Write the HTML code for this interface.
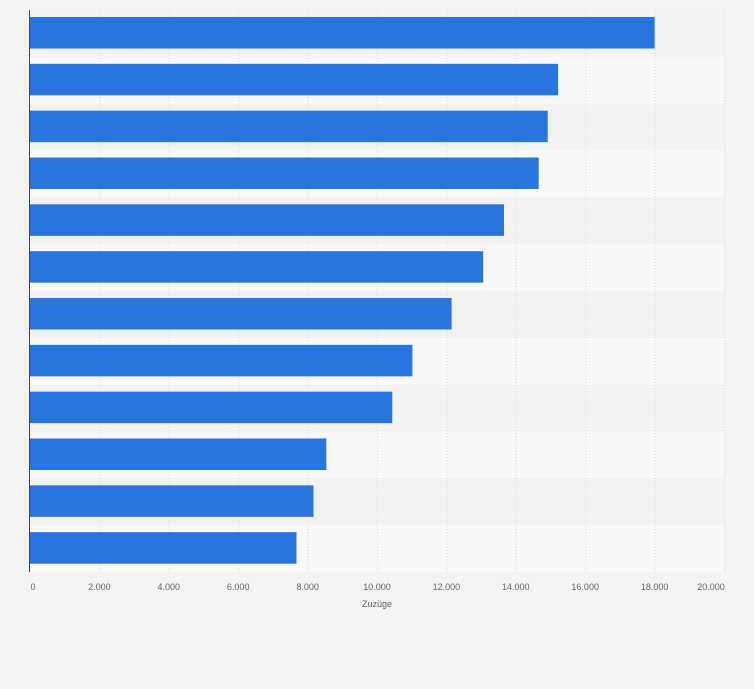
<!DOCTYPE html>
<html><head><meta charset="utf-8"><style>
body{margin:0;background:#f3f3f3;font-family:"Liberation Sans",sans-serif}
svg{display:block}
</style></head><body>
<svg width="754" height="689">
<rect width="754" height="689" fill="#f3f3f3"/>
<g id="bands"></g><g id="grid"></g><g id="bars"></g><g id="ticks"></g>
<line x1="29.5" y1="10" x2="29.5" y2="572" stroke="#444" stroke-width="1"/>
<text x="377" y="607" font-size="9" fill="#666" text-anchor="middle">Zuzüge</text>
</svg>
<script>
const values=[18000,15220,14920,14660,13660,13060,12150,11020,10440,8540,8170,7680];
const tickValues=[0,2000,4000,6000,8000,10000,12000,14000,16000,18000,20000];
const tickLabels=["0","2.000","4.000","6.000","8.000","10.000","12.000","14.000","16.000","18.000","20.000"];
const NS="http://www.w3.org/2000/svg";
const plotLeft=30,plotRight=724,plotTop=10,plotBottom=572,maxV=20000;
const xs=v=>plotLeft+(v/maxV)*(plotRight-plotLeft);
const band=(plotBottom-plotTop)/values.length;
function mk(t,a,p){const e=document.createElementNS(NS,t);for(const k in a)e.setAttribute(k,a[k]);document.getElementById(p).appendChild(e);return e;}
values.forEach((v,i)=>{
 const b=mk('rect',{x:plotLeft,y:plotTop+i*band,width:plotRight-plotLeft,height:band,fill:i%2?'#f8f8f8':'#f2f2f2'},'bands');
 
 
 const r=mk('rect',{x:plotLeft,y:plotTop+i*band+7,width:xs(v)-plotLeft,height:31.5,fill:'#2876dd'},'bars');
 
 
});
tickValues.forEach((t,i)=>{
 const x=xs(t);
 if(t>0){const g=mk('line',{x1:x+.5,x2:x+.5,y1:plotTop,y2:plotBottom,stroke:'#d8d8d8','stroke-dasharray':'1,2'},'grid');
 
 }
 const tx=mk('text',{x:i==0?x+3:(i==tickValues.length-1?x-13:x),y:590,'font-size':9,fill:'#666','text-anchor':'middle'},'ticks');
 tx.textContent=tickLabels[i];
 
 
});
</script>
</body></html>
